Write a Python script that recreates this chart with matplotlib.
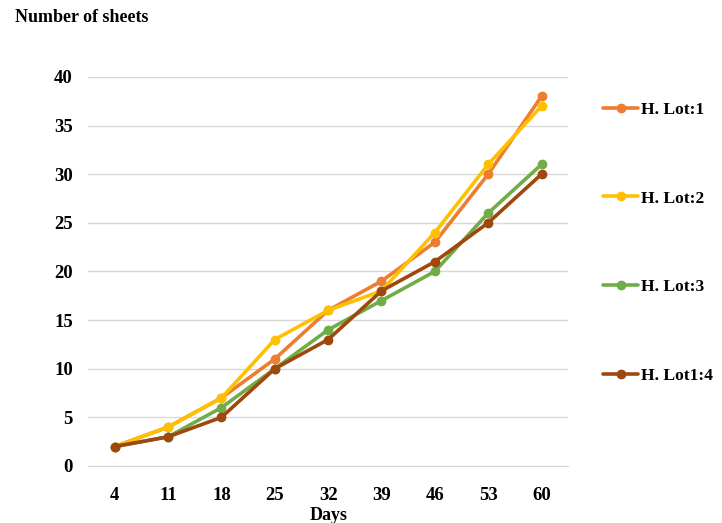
"""Number of sheets per lot over time, recreated as out.png."""
import matplotlib.pyplot as plt

days = ["4", "11", "18", "25", "32", "39", "46", "53", "60"]
lot1 = [2, 4, 7, 11, 16, 19, 23, 30, 38]
lot2 = [2, 4, 7, 13, 16, 18, 24, 31, 37]
lot3 = [2, 3, 6, 10, 14, 17, 20, 26, 31]
lot4 = [2, 3, 5, 10, 13, 18, 21, 25, 30]
labels = ["H. Lot:1", "H. Lot:2", "H. Lot:3", "H. Lot1:4"]
colors = ["#ED7D31", "#FFC000", "#70AD47", "#9E480E"]

plt.rcParams["font.family"] = ["Liberation Serif", "DejaVu Serif"]
plt.rcParams["font.weight"] = "bold"

fig = plt.figure(figsize=(7.22, 5.23), dpi=100)
ax = fig.add_axes([0.122, 0.109, 0.665, 0.744])

x = range(len(days))
for ys, lab, c in zip([lot1, lot2, lot3, lot4], labels, colors):
    ax.plot(x, ys, color=c, lw=2.6, marker="o", ms=6, label=lab,
            solid_capstyle="round")

ax.set_xlim(-0.5, len(days) - 0.5)
ax.set_ylim(0, 40)
ax.set_yticks(range(0, 41, 5))
ax.set_xticks(list(x))
ax.set_xticklabels(days)
ax.grid(axis="y", color="#d9d9d9", lw=1)
ax.set_axisbelow(True)
for s in ["top", "right", "left"]:
    ax.spines[s].set_visible(False)
ax.spines["bottom"].set_color("#d9d9d9")
ax.tick_params(length=0, labelsize=13.5, pad=11)
ax.tick_params(axis="x", pad=15)
for t in ax.get_xticklabels() + ax.get_yticklabels():
    t.set_fontweight("bold")

ax.set_xlabel("Days", fontsize=13, fontweight="bold", labelpad=2)
fig.text(0.021, 0.966, "Number of sheets", fontsize=13, fontweight="bold",
         va="center", ha="left")

leg = ax.legend(loc="upper left", bbox_to_anchor=(1.058, 0.955), frameon=False,
                fontsize=12.6, labelspacing=4.15, handlelength=2.0,
                handletextpad=0.15, borderaxespad=0)
for t in leg.get_texts():
    t.set_fontweight("bold")

fig.savefig("out.png", dpi=100)
